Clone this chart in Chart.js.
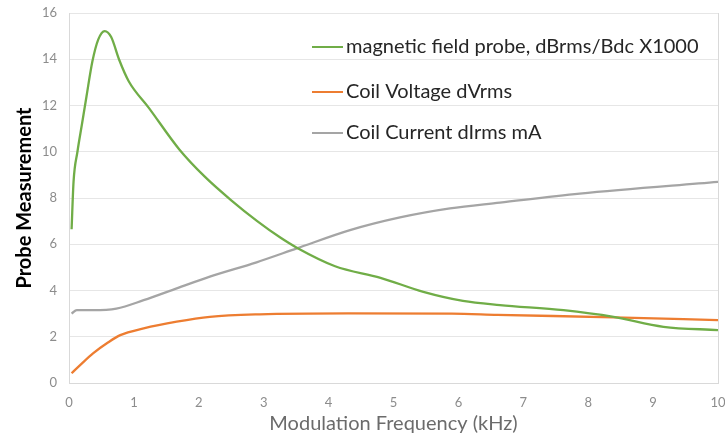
<!DOCTYPE html>
<html lang="en">
<head>
<meta charset="UTF-8">
<title>Probe Measurement</title>
<script src="https://cdn.jsdelivr.net/npm/chart.js"></script>
<style>
    body { margin: 0; background: #fff; }
    canvas { display: block; }
</style>
</head>
<body>
<canvas id="chart" width="725" height="440"></canvas>
<script>
// values
const probeFreq   = [0.04, 0.07, 0.13, 0.2, 0.27, 0.36, 0.45, 0.55, 0.65, 0.77, 0.92, 1.23, 1.7, 2.1, 2.5, 2.9, 3.25, 3.51, 4.1, 4.8, 5.46, 6.07, 6.64, 7.62, 8.39, 9.16, 10];
const probeVals   = [6.65, 8.7, 10.0, 11.2, 12.4, 13.9, 14.85, 15.22, 14.96, 14.0, 13.05, 11.9, 10.1, 8.9, 7.9, 7.0, 6.3, 5.85, 5.05, 4.55, 3.94, 3.55, 3.37, 3.15, 2.86, 2.43, 2.29];

const voltageFreq = [0.04, 0.2, 0.37, 0.6, 0.79, 1.15, 1.66, 2.17, 2.94, 4.3, 5.9, 6.6, 8.4, 10];
const voltageVals = [0.42, 0.85, 1.28, 1.75, 2.07, 2.36, 2.65, 2.86, 2.97, 3.01, 3.0, 2.95, 2.84, 2.72];

const currentFreq = [0.04, 0.12, 0.37, 0.73, 1.15, 1.66, 2.17, 2.89, 3.51, 4.33, 5.1, 5.87, 6.64, 7.87, 10];
const currentVals = [3.0, 3.15, 3.15, 3.22, 3.58, 4.09, 4.6, 5.22, 5.82, 6.61, 7.16, 7.55, 7.8, 8.19, 8.7];

const seriesNames = ['magnetic field probe, dBrms/Bdc X1000', 'Coil Voltage dVrms', 'Coil Current dIrms mA'];
const seriesColors = ['#70AD47', '#ED7D31', '#A5A5A5'];

const pts = (xs, ys) => xs.map((x, i) => ({ x: x, y: ys[i] }));

// legend sits inside the plot, top right
const insideLegend = {
    id: 'insideLegend',
    afterDraw(chart) {
        const c = chart.ctx;
        c.save();
        c.font = '20px Lato';
        c.textBaseline = 'middle';
        const rows = [47, 92, 133];
        chart.data.datasets.forEach((ds, i) => {
            c.strokeStyle = ds.borderColor;
            c.lineWidth = 2;
            c.beginPath();
            c.moveTo(312, rows[i]);
            c.lineTo(343, rows[i]);
            c.stroke();
            c.fillStyle = '#262626';
            c.fillText(ds.label, 346, rows[i]);
        });
        c.restore();
    }
};

const chart = new Chart(document.getElementById('chart').getContext('2d'), {
    type: 'line',
    data: {
        datasets: [
            { label: seriesNames[0], data: pts(probeFreq, probeVals), borderColor: seriesColors[0] },
            { label: seriesNames[1], data: pts(voltageFreq, voltageVals), borderColor: seriesColors[1] },
            { label: seriesNames[2], data: pts(currentFreq, currentVals), borderColor: seriesColors[2] }
        ]
    },
    options: {
        responsive: false,
        animation: false,
        devicePixelRatio: 1,
        layout: { padding: { left: 0, top: 13, right: 7, bottom: 0 } },
        elements: {
            point: { radius: 0 },
            line: { borderWidth: 2.3, cubicInterpolationMode: 'monotone', fill: false }
        },
        plugins: {
            legend: { display: false },
            tooltip: { enabled: false }
        },
        scales: {
            x: {
                type: 'linear',
                min: 0,
                max: 10,
                ticks: { stepSize: 1, color: '#8c8c8c', font: { family: 'Lato', size: 13 }, padding: 12, maxRotation: 0 },
                grid: {
                    drawTicks: false,
                    color: c => (c.index === 0 || c.index === 10) ? '#d9d9d9' : 'transparent'
                },
                border: { display: true, color: '#d9d9d9' },
                title: { display: true, text: 'Modulation Frequency (kHz)', color: '#6b6b6b', font: { family: 'Lato', size: 20 }, padding: { top: 0, bottom: 4 } },
                afterFit: s => { s.height = 57; s.paddingLeft = 0; s.paddingRight = 0; }
            },
            y: {
                min: 0,
                max: 16,
                ticks: { stepSize: 2, color: '#8c8c8c', font: { family: 'Lato', size: 13 }, padding: 12 },
                grid: { drawTicks: false, color: '#e6e6e6' },
                border: { display: true, color: '#d9d9d9' },
                title: { display: true, text: 'Probe Measurement', color: '#000', font: { family: 'Lato', size: 20, weight: 'bold' }, padding: { top: 13, bottom: 0 } },
                afterFit: s => { s.width = 69; s.paddingTop = 0; s.paddingBottom = 0; }
            }
        }
    },
    plugins: [insideLegend]
});
</script>
</body>
</html>
